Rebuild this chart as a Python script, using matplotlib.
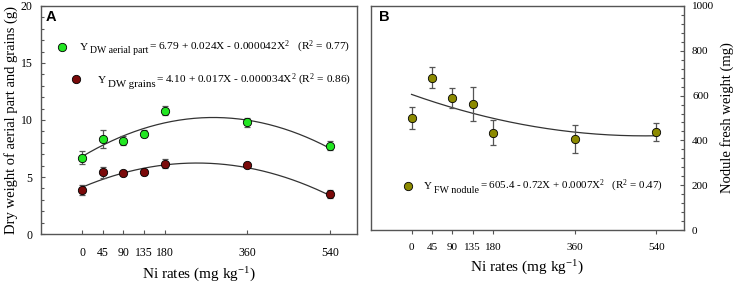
import numpy as np
import matplotlib
matplotlib.use("Agg")
import matplotlib.pyplot as plt
from matplotlib.ticker import MultipleLocator
from matplotlib.transforms import offset_copy

plt.rcParams['font.family'] = ['Liberation Serif', 'DejaVu Serif']
plt.rcParams['mathtext.fontset'] = 'custom'
plt.rcParams['mathtext.rm'] = 'Liberation Serif'
plt.rcParams['mathtext.it'] = 'Liberation Serif:italic'

# Ni rates (mg kg-1)
ni_rates = [0, 45, 90, 135, 180, 360, 540]

# panel A: dry weight (g)
dw_aerial = [6.7, 8.3, 8.2, 8.8, 10.8, 9.8, 7.75]
dw_aerial_err = [0.6, 0.8, 0.4, 0.3, 0.4, 0.4, 0.4]
dw_grains = [3.85, 5.4, 5.35, 5.4, 6.15, 6.05, 3.5]
dw_grains_err = [0.45, 0.5, 0.2, 0.25, 0.4, 0.2, 0.35]
coef_aerial = [6.79, 0.024, -0.000042]
coef_grains = [4.10, 0.017, -0.000034]

# panel B: nodule fresh weight (mg)
fw_nodule = [500, 680, 590, 562, 435, 405, 438]
fw_nodule_err = [50, 48, 45, 75, 55, 62, 40]
coef_nodule = [605.4, -0.72, 0.0007]

green = '#22e622'
darkred = '#7a0a0a'
olive = '#8c8a00'
spine_col = '#555555'
err_col = '#555555'


def quad(c, x):
    return c[0] + c[1] * x + c[2] * x ** 2


def style_axes(ax, size):
    for s in ax.spines.values():
        s.set_color(spine_col)
        s.set_linewidth(1.0)
    ax.set_xticks(ni_rates)
    ax.set_xticklabels([str(v) for v in ni_rates])
    ax.tick_params(axis='both', labelsize=size, colors=spine_col, labelcolor='black',
                   length=3, width=0.8)
    ax.tick_params(which='minor', length=2, width=0.8, colors=spine_col)


def points(ax, y, yerr, color):
    ax.errorbar(ni_rates, y, yerr=yerr, fmt='none', ecolor=err_col, elinewidth=0.9,
                capsize=2.5, capthick=0.9, zorder=2)
    ax.plot(ni_rates, y, 'o', ms=6, mfc=color, mec='black', mew=0.6, zorder=3)


def equation(ax, x, y, sub, rest, size=8.2, subsize=7.0, drop=3.5):
    # Y, then a big lowered subscript, then the rest of the formula
    renderer = fig.canvas.get_renderer()
    t = ax.text(x, y, 'Y', transform=ax.transAxes, fontsize=size, va='baseline', ha='left')
    dx = t.get_window_extent(renderer).width + 2
    tr = offset_copy(ax.transAxes, fig=fig, x=dx, y=-drop, units='dots')
    t2 = ax.text(x, y, sub, transform=tr, fontsize=subsize, va='baseline', ha='left')
    dx += t2.get_window_extent(renderer).width + 1
    tr = offset_copy(ax.transAxes, fig=fig, x=dx, y=0, units='dots')
    ax.text(x, y, rest, transform=tr, fontsize=size, va='baseline', ha='left')


def legend_dot(ax, x, y, color):
    ax.plot([x], [y], 'o', ms=6, mfc=color, mec='black', mew=0.6,
            transform=ax.transAxes, clip_on=False)


fig = plt.figure(figsize=(7.37, 2.84), dpi=100)
axA = fig.add_axes([0.0552, 0.176, 0.4296, 0.803])
axB = fig.add_axes([0.503, 0.190, 0.4247, 0.789])

xs = np.linspace(0, 540, 200)

# --- panel A ---
axA.plot(xs, quad(coef_aerial, xs), color='#333333', lw=0.9, zorder=1)
axA.plot(xs, quad(coef_grains, xs), color='#333333', lw=0.9, zorder=1)
points(axA, dw_aerial, dw_aerial_err, green)
points(axA, dw_grains, dw_grains_err, darkred)
axA.set_xlim(-90, 599)
axA.set_ylim(0, 20)
axA.yaxis.set_major_locator(MultipleLocator(5))
axA.yaxis.set_minor_locator(MultipleLocator(1))
style_axes(axA, 8.5)
axA.tick_params(direction='in')
axA.tick_params(which='minor', direction='in')
axA.tick_params(axis='x', pad=9)
axA.tick_params(axis='y', pad=6)
axA.set_xlabel('Ni rates (mg kg$^{\\mathregular{-1}}$)', fontsize=11, labelpad=5)
axA.set_ylabel('Dry weight of aerial part and grains (g)', fontsize=10.5, labelpad=2)
axA.text(0.015, 0.95, 'A', transform=axA.transAxes, fontsize=10.5, fontweight='bold',
         family='Liberation Sans', va='center', ha='left')

legend_dot(axA, 0.066, 0.82, green)
equation(axA, 0.123, 0.807, 'DW aerial part',
         '= 6.79 + 0.024X - 0.000042X$^{\\mathregular{2}}$   (R$^{\\mathregular{2}}$ = 0.77)')
legend_dot(axA, 0.113, 0.68, darkred)
equation(axA, 0.18, 0.662, 'DW grains',
         '= 4.10 + 0.017X - 0.000034X$^{\\mathregular{2}}$ (R$^{\\mathregular{2}}$ = 0.86)',
         subsize=7.8)

# --- panel B ---
axB.plot(xs, quad(coef_nodule, xs), color='#333333', lw=0.9, zorder=1)
points(axB, fw_nodule, fw_nodule_err, olive)
axB.set_xlim(-90, 600)
axB.set_ylim(0, 1000)
axB.yaxis.tick_right()
axB.yaxis.set_label_position('right')
axB.yaxis.set_major_locator(MultipleLocator(200))
axB.yaxis.set_minor_locator(MultipleLocator(40))
style_axes(axB, 8)
axB.tick_params(axis='y', direction='in', pad=6)
axB.tick_params(axis='y', which='minor', direction='in')
axB.tick_params(axis='x', pad=6)
axB.set_xlabel('Ni rates (mg kg$^{\\mathregular{-1}}$)', fontsize=11, labelpad=5)
axB.set_ylabel('Nodule fresh weight (mg)', fontsize=10.5, labelpad=4)
axB.text(0.025, 0.95, 'B', transform=axB.transAxes, fontsize=10.5, fontweight='bold',
         family='Liberation Sans', va='center', ha='left')
legend_dot(axB, 0.12, 0.196, olive)
equation(axB, 0.17, 0.183, 'FW nodule',
         '= 605.4 - 0.72X + 0.0007X$^{\\mathregular{2}}$   (R$^{\\mathregular{2}}$ = 0.47)',
         size=7.9, subsize=7.2)

fig.savefig('out.png', dpi=100)
